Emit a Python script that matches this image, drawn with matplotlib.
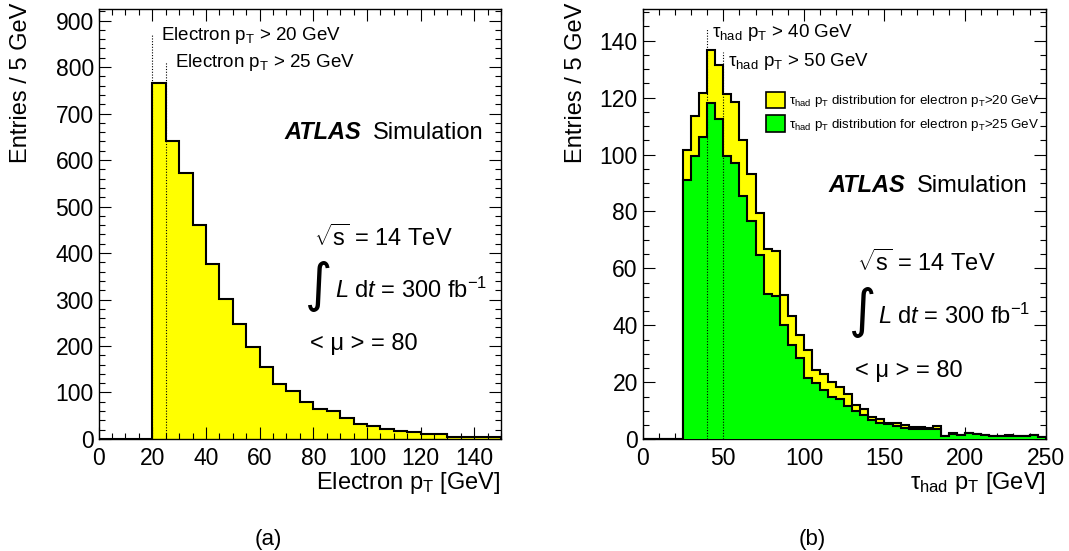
import numpy as np
import matplotlib
matplotlib.use("Agg")
import matplotlib.pyplot as plt
from matplotlib.patches import Patch
from matplotlib.ticker import MultipleLocator

plt.rcParams['font.family'] = ['Liberation Sans', 'DejaVu Sans']
plt.rcParams['mathtext.fontset'] = 'custom'
plt.rcParams['mathtext.rm'] = 'Liberation Sans'
plt.rcParams['mathtext.it'] = 'Liberation Sans:italic'
plt.rcParams['mathtext.bf'] = 'Liberation Sans:bold'

BIN_WIDTH = 5  # GeV

# (a) electron pT spectrum, 5 GeV bins from 0 to 150 GeV
electron_counts = [0, 0, 0, 0, 766, 640, 573, 461, 376, 301, 248, 197, 155, 119,
                   103, 79, 65, 60, 45, 33, 28, 22, 18, 14, 11, 10, 5, 5, 4, 5]
electron_cuts = [20, 25]
electron_cut_marker_tops = [870, 810]

# (b) tau_had pT spectra, 5 GeV bins from 0 to 250 GeV
tau_counts_e20 = [0, 0, 0, 0, 0,
                  101.5, 113.5, 121.5, 136.7, 131.3, 121.3, 118.5, 105.0, 93.3, 79.6,
                  67.0, 66.1, 50.6, 43.4, 36.7, 31.3, 24.4, 23.0, 20.2, 18.5,
                  15.8, 12.2, 10.5, 7.8, 7.0, 5.9, 5.6, 5.0, 4.4, 4.3,
                  4.1, 4.6, 1.3, 2.1, 1.6, 2.2, 1.8, 1.5, 1.2, 1.2,
                  1.4, 1.1, 1.2, 1.5, 0.9]
tau_counts_e25 = [0, 0, 0, 0, 0,
                  91.0, 99.5, 106.2, 118.2, 112.4, 99.5, 97.1, 85.5, 76.5, 64.8,
                  51.0, 50.2, 40.0, 33.1, 28.5, 21.5, 19.8, 17.2, 15.0, 14.2,
                  11.8, 9.8, 8.6, 6.8, 5.6, 5.3, 4.6, 3.9, 3.6, 3.6,
                  3.5, 3.6, 1.2, 2.0, 1.5, 2.1, 1.7, 1.4, 1.1, 1.1,
                  1.3, 1.0, 1.1, 1.4, 0.8]
tau_cuts = [40, 50]
tau_cut_marker_tops = [144, 136]

YELLOW = '#ffff00'
GREEN = '#00ff00'
HIST_LW = 1.5

fig = plt.figure(figsize=(10.69, 5.51), dpi=100)
ax_a = fig.add_axes([0.0923, 0.2033, 0.3764, 0.7804])
ax_b = fig.add_axes([0.6012, 0.2027, 0.3770, 0.7804])


def style_axes(ax, xmax, ymax, xmaj, xmin, ymaj, ymin):
    ax.set_xlim(0, xmax)
    ax.set_ylim(0, ymax)
    ax.xaxis.set_major_locator(MultipleLocator(xmaj))
    ax.xaxis.set_minor_locator(MultipleLocator(xmin))
    ax.yaxis.set_major_locator(MultipleLocator(ymaj))
    ax.yaxis.set_minor_locator(MultipleLocator(ymin))
    ax.tick_params(which='both', direction='in', top=True, right=True,
                   labelsize=16.5, width=0.8)
    ax.tick_params(which='major', length=8.5)
    ax.tick_params(which='minor', length=4.3)
    ax.tick_params(axis='x', pad=5.5)
    ax.tick_params(axis='y', pad=3.5)
    for s in ax.spines.values():
        s.set_linewidth(1.0)


def edges_for(counts):
    return np.arange(len(counts) + 1) * BIN_WIDTH


# ---- (a) electron pT ----
ea = edges_for(electron_counts)
ax_a.stairs(electron_counts, ea, fill=True, color=YELLOW, zorder=1)
ax_a.stairs(electron_counts, ea, color='black', lw=HIST_LW, zorder=2)
ax_a.vlines(electron_cuts, 0, electron_cut_marker_tops, colors='black',
            linestyles=(0, (1, 1.5)), lw=0.8, zorder=3)
style_axes(ax_a, 150, 925, 20, 5, 100, 20)

TXT = 13.5
INFO = 17
for cut, fx, fy in zip(electron_cuts, [0.155, 0.190], [0.927, 0.866]):
    ax_a.text(fx, fy, 'Electron p$_{\\mathregular{T}}$ > %d GeV' % cut,
              transform=ax_a.transAxes, fontsize=TXT, va='baseline')

ax_a.text(0.461, 0.698, 'ATLAS', transform=ax_a.transAxes, fontsize=INFO,
          fontweight='bold', style='italic', va='baseline')
ax_a.text(0.681, 0.698, 'Simulation', transform=ax_a.transAxes, fontsize=INFO,
          va='baseline')
ax_a.text(0.535, 0.4495, '$\\sqrt{\\mathregular{s}}$ = 14 TeV',
          transform=ax_a.transAxes, fontsize=INFO, va='baseline')
ax_a.text(0.546, 0.356, '\u222b', transform=ax_a.transAxes, fontsize=38,
          family='DejaVu Sans', ha='center', va='center')
ax_a.text(0.587, 0.3286, '$\\mathit{L}$ d$\\mathit{t}$ = 300 fb$^{\\mathregular{-1}}$',
          transform=ax_a.transAxes, fontsize=INFO, va='baseline')
ax_a.text(0.525, 0.207, '< \u03bc > = 80', transform=ax_a.transAxes,
          fontsize=INFO, va='baseline')

# ---- (b) tau_had pT ----
eb = edges_for(tau_counts_e20)
ax_b.stairs(tau_counts_e20, eb, fill=True, color=YELLOW, zorder=1)
ax_b.stairs(tau_counts_e20, eb, color='black', lw=HIST_LW, zorder=2)
ax_b.stairs(tau_counts_e25, eb, fill=True, color=GREEN, zorder=3)
ax_b.stairs(tau_counts_e25, eb, color='black', lw=HIST_LW, zorder=4)
ax_b.vlines(tau_cuts, 0, tau_cut_marker_tops, colors='black',
            linestyles=(0, (1, 1.5)), lw=0.8, zorder=5)
style_axes(ax_b, 250, 151, 50, 10, 20, 5)

for cut, fx, fy in zip(tau_cuts, [0.171, 0.212], [0.936, 0.869]):
    ax_b.text(fx, fy, '\u03c4$_{\\mathregular{had}}$ p$_{\\mathregular{T}}$ > %d GeV' % cut,
              transform=ax_b.transAxes, fontsize=TXT, va='baseline')

handles = [Patch(facecolor=YELLOW, edgecolor='black', lw=1.2),
           Patch(facecolor=GREEN, edgecolor='black', lw=1.2)]
labels = ['\u03c4$_{\\mathregular{had}}$ p$_{\\mathregular{T}}$ distribution for electron p$_{\\mathregular{T}}$>%d GeV' % c
          for c in electron_cuts]
ax_b.legend(handles, labels, loc='upper left', bbox_to_anchor=(0.306, 0.808),
            frameon=False, fontsize=9.6, borderpad=0, borderaxespad=0,
            handlelength=1.45, handleheight=1.5, handletextpad=0.25,
            labelspacing=0.45)

ax_b.text(0.4605, 0.576, 'ATLAS', transform=ax_b.transAxes, fontsize=INFO,
          fontweight='bold', style='italic', va='baseline')
ax_b.text(0.681, 0.576, 'Simulation', transform=ax_b.transAxes, fontsize=INFO,
          va='baseline')
ax_b.text(0.5325, 0.392, '$\\sqrt{\\mathregular{s}}$ = 14 TeV',
          transform=ax_b.transAxes, fontsize=INFO, va='baseline')
ax_b.text(0.545, 0.297, '\u222b', transform=ax_b.transAxes, fontsize=38,
          family='DejaVu Sans', ha='center', va='center')
ax_b.text(0.585, 0.268, '$\\mathit{L}$ d$\\mathit{t}$ = 300 fb$^{\\mathregular{-1}}$',
          transform=ax_b.transAxes, fontsize=INFO, va='baseline')
ax_b.text(0.527, 0.1456, '< \u03bc > = 80', transform=ax_b.transAxes,
          fontsize=INFO, va='baseline')

# axis titles
fig.text(21 / 1069, 1 - 3 / 551, 'Entries / 5 GeV', rotation=90, fontsize=17,
         ha='center', va='top')
fig.text(576 / 1069, 1 - 3 / 551, 'Entries / 5 GeV', rotation=90, fontsize=17,
         ha='center', va='top')
fig.text(501 / 1069, 1 - 489.5 / 551, 'Electron p$_{\\mathregular{T}}$ [GeV]',
         fontsize=17, ha='right', va='baseline')
fig.text(1046 / 1069, 1 - 488.5 / 551,
         '\u03c4$_{\\mathregular{had}}$ p$_{\\mathregular{T}}$ [GeV]',
         fontsize=17, ha='right', va='baseline')
fig.text(268 / 1069, 1 - 539 / 551, '(a)', fontsize=16, ha='center', va='center')
fig.text(812 / 1069, 1 - 539 / 551, '(b)', fontsize=16, ha='center', va='center')

fig.savefig('out.png', dpi=100)
